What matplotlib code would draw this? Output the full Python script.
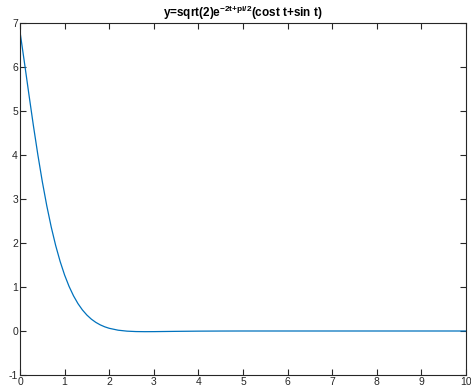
import matplotlib
matplotlib.use("Agg")
import matplotlib.pyplot as plt

# values
t = [0.0, 0.1, 0.2, 0.3, 0.4, 0.5, 0.6, 0.7, 0.8, 0.9, 1.0, 1.1, 1.2, 1.3, 1.4,
     1.5, 1.6, 1.7, 1.8, 1.9, 2.0, 2.2, 2.4, 2.6, 2.8, 3.0, 3.5, 4.0, 4.5, 5.0,
     6.0, 7.0, 8.0, 9.0, 10.0]
y = [6.803, 6.098, 5.375, 4.670, 4.006, 3.396, 2.848, 2.364, 1.942, 1.580,
     1.272, 1.014, 0.799, 0.622, 0.478, 0.362, 0.269, 0.196, 0.139, 0.095,
     0.0615, 0.0184, -0.0035, -0.0128, -0.0153, -0.0143, -0.0080, -0.0032,
     -0.0010, 0.0, 0.0, 0.0, 0.0, 0.0, 0.0]
xticks = list(range(0, 11))
yticks = list(range(-1, 8))

plt.rcParams['font.family'] = ['Liberation Sans', 'DejaVu Sans']
plt.rcParams['mathtext.fontset'] = 'custom'
plt.rcParams['mathtext.rm'] = 'Liberation Sans'
plt.rcParams['mathtext.bf'] = 'Liberation Sans:bold'
plt.rcParams['axes.unicode_minus'] = False

fig = plt.figure(figsize=(4.71, 3.88), dpi=100)
ax = fig.add_axes([20/471, 1-375/388, 446/471, (375-23)/388])
ax.plot(t, y, color='#0072BD', lw=0.9)
ax.set_xlim(0, 10)
ax.set_ylim(-1, 7)
ax.set_xticks(xticks)
ax.set_yticks(yticks)
ax.tick_params(direction='in', length=4, width=0.8, labelsize=7.5,
               colors='#262626', top=True, right=True, pad=1.5)
for s in ax.spines.values():
    s.set_color('#262626')
    s.set_linewidth(0.8)
ax.set_title(r'y=sqrt(2)e$^{\mathbf{{-}2t{+}pi/2}}$(cost t+sin t)',
             fontsize=8.5, fontweight='bold', pad=4)
fig.savefig('out.png', dpi=100)
